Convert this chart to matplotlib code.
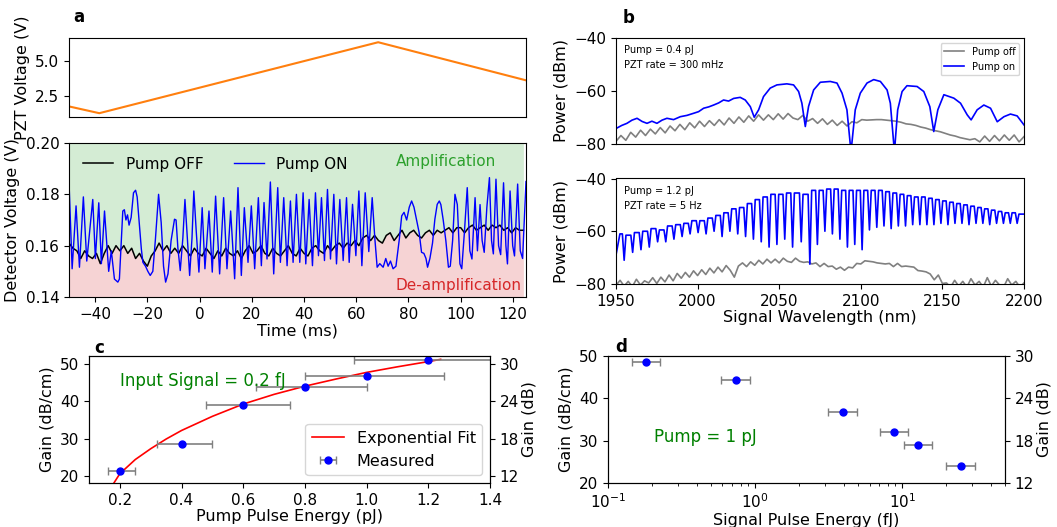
import numpy as np
import matplotlib
matplotlib.use("Agg")
import matplotlib.pyplot as plt

plt.rcParams['font.size'] = 11

# ---------------------------------------------------------------
# (a) PZT ramp and detector trace
# ---------------------------------------------------------------
pzt_t = [-50.0, -38.4, 68.4, 125.0]
pzt_v = [1.79, 1.31, 6.34, 3.64]

# pump-off detector voltage, sampled every 1.5 ms from -50 ms
off_t0, off_dt = -50.0, 1.5
off_v = [0.161, 0.159, 0.158, 0.155, 0.158, 0.156, 0.155, 0.157, 0.153, 0.157,
         0.160, 0.157, 0.160, 0.158, 0.160, 0.157, 0.159, 0.155, 0.157, 0.154,
         0.152, 0.156, 0.158, 0.161, 0.158, 0.160, 0.157, 0.159, 0.157, 0.160,
         0.158, 0.156, 0.159, 0.157, 0.156, 0.159, 0.157, 0.155, 0.158, 0.156,
         0.159, 0.157, 0.156, 0.158, 0.155, 0.158, 0.160, 0.157, 0.158, 0.160,
         0.157, 0.156, 0.159, 0.157, 0.156, 0.158, 0.160, 0.157, 0.156, 0.159,
         0.157, 0.156, 0.159, 0.160, 0.158, 0.157, 0.160, 0.158, 0.160, 0.161,
         0.159, 0.161, 0.160, 0.162, 0.160, 0.163, 0.164, 0.162, 0.164, 0.162,
         0.161, 0.164, 0.165, 0.162, 0.164, 0.166, 0.163, 0.165, 0.166, 0.164,
         0.163, 0.165, 0.166, 0.164, 0.166, 0.165, 0.166, 0.167, 0.165, 0.167,
         0.167, 0.165, 0.167, 0.168, 0.166, 0.167, 0.168, 0.166, 0.168, 0.167,
         0.168, 0.166, 0.167, 0.165, 0.167, 0.166, 0.166]

# pump-on detector voltage (turning points of the fringe signal)
on_t = [-50.0, -48.8, -47.3, -46.0, -44.5, -43.2, -40.9, -39.9, -38.6, -37.6,
        -36.4, -34.8, -33.8, -32.6, -31.3, -30.7, -29.4, -28.8, -28.2, -27.6,
        -27.0, -26.2, -25.3, -24.5, -23.9, -23.0, -22.3, -21.7, -20.7, -19.8,
        -18.9, -17.9, -16.9, -15.7, -14.7, -13.8, -13.0, -12.1, -10.9, -9.6,
        -9.0, -8.3, -7.4, -6.4, -5.6, -4.7, -3.8, -2.9, -2.2, -1.3,
        -0.25, 1.0, 2.05, 3.6, 4.86, 6.14, 7.68, 9.21, 10.49, 11.9,
        13.43, 14.71, 15.99, 17.14, 18.55, 19.82, 21.1, 22.51, 23.66, 24.68,
        25.83, 27.11, 28.39, 29.93, 30.95, 32.23, 33.51, 34.79, 35.81, 37.09,
        38.37, 39.65, 40.67, 41.95, 43.23, 44.38, 45.53, 46.68, 47.83, 48.98,
        50.13, 51.41, 52.43, 53.71, 54.99, 56.27, 57.29, 58.57, 59.85, 61.0,
        62.15, 63.43, 64.8, 66.1, 67.1, 68.0, 69.0, 70.3, 71.3, 72.2,
        73.1, 74.1, 75.2, 76.5, 77.4, 78.3, 79.3, 80.3, 81.2, 82.1,
        83.1, 84.1, 85.0, 85.9, 86.7, 87.3, 88.2, 89.2, 90.1, 91.0,
        91.8, 92.4, 93.3, 94.3, 95.3, 96.0, 96.9, 97.8, 98.7, 99.7,
        100.4, 101.4, 102.5, 103.5, 104.3, 105.5, 106.4, 107.4, 108.2, 109.0,
        110.0, 111.0, 111.8, 112.5, 113.5, 114.5, 115.3, 116.4, 117.3, 117.9,
        118.9, 119.9, 120.6, 121.8, 122.8, 123.7, 125.0]
on_v = [0.185, 0.151, 0.1755, 0.1516, 0.179, 0.154, 0.178, 0.155, 0.1767, 0.153,
        0.1735, 0.150, 0.158, 0.147, 0.1458, 0.147, 0.1735, 0.174, 0.170, 0.172,
        0.168, 0.171, 0.1806, 0.1816, 0.179, 0.1677, 0.1587, 0.1535, 0.152, 0.150,
        0.1484, 0.150, 0.1626, 0.180, 0.169, 0.152, 0.1458, 0.149, 0.162, 0.1703,
        0.170, 0.159, 0.1503, 0.163, 0.178, 0.163, 0.1484, 0.163, 0.1813, 0.166,
        0.1497, 0.1748, 0.151, 0.1735, 0.1497, 0.1793, 0.149, 0.1787, 0.151, 0.1735,
        0.1471, 0.1826, 0.1484, 0.1748, 0.1535, 0.1755, 0.151, 0.1787, 0.1522, 0.1768,
        0.1548, 0.1848, 0.149, 0.1826, 0.1535, 0.1787, 0.1522, 0.1774, 0.1535, 0.180,
        0.1535, 0.1806, 0.1529, 0.178, 0.1522, 0.1806, 0.1561, 0.1787, 0.1542, 0.1819,
        0.1548, 0.180, 0.1529, 0.178, 0.1542, 0.1787, 0.1535, 0.1761, 0.1561, 0.1813,
        0.1522, 0.1806, 0.1577, 0.1787, 0.163, 0.1516, 0.153, 0.1516, 0.155, 0.152,
        0.154, 0.151, 0.152, 0.1626, 0.1716, 0.173, 0.170, 0.175, 0.1774, 0.175,
        0.170, 0.165, 0.1574, 0.157, 0.155, 0.1516, 0.155, 0.161, 0.1703, 0.1761,
        0.1774, 0.176, 0.170, 0.162, 0.1516, 0.152, 0.162, 0.180, 0.176, 0.1529,
        0.151, 0.165, 0.1826, 0.158, 0.1548, 0.1787, 0.158, 0.176, 0.162, 0.1574,
        0.1748, 0.1865, 0.162, 0.1568, 0.1859, 0.160, 0.1565, 0.1845, 0.160, 0.1529,
        0.1813, 0.160, 0.156, 0.184, 0.158, 0.155, 0.185]

# ---------------------------------------------------------------
# (b) optical spectra
# ---------------------------------------------------------------
# 0.4 pJ pump, 300 mHz PZT
b1_on_wl = [1950.2, 1953.5, 1956.7, 1959.8, 1962.9, 1966.0, 1969.0, 1972.0, 1975.1, 1978.2,
            1981.2, 1985.3, 1989.4, 1993.5, 1997.6, 2000.6, 2003.7, 2006.8, 2009.8, 2012.9,
            2015.9, 2019.0, 2022.1, 2026.1, 2029.2, 2032.3, 2034.7, 2037.4, 2040.4, 2044.5,
            2048.6, 2054.7, 2058.8, 2061.9, 2063.9, 2066.0, 2068.0, 2071.1, 2075.2, 2081.3,
            2085.4, 2088.5, 2091.5, 2094.0, 2096.6, 2099.7, 2103.8, 2107.9, 2112.0, 2116.1,
            2118.1, 2120.6, 2122.6, 2125.3, 2128.3, 2134.5, 2138.6, 2142.3, 2144.7, 2147.2,
            2150.9, 2157.0, 2161.1, 2165.2, 2167.6, 2171.3, 2175.4, 2179.5, 2183.6, 2187.7,
            2191.7, 2195.8, 2200.0]
b1_on_p = [-74.1, -73.0, -72.2, -71.0, -70.3, -71.5, -72.2, -71.4, -72.2, -71.0,
           -70.3, -70.8, -69.7, -69.2, -68.4, -67.8, -66.5, -66.0, -65.3, -64.5,
           -63.4, -63.8, -62.8, -62.4, -63.4, -65.9, -69.9, -67.1, -62.1, -58.9,
           -57.7, -57.3, -57.7, -60.2, -64.6, -73.4, -65.8, -59.6, -56.7, -56.4,
           -57.0, -60.8, -67.1, -83.0, -67.1, -60.8, -57.0, -55.7, -56.4, -59.6,
           -64.6, -83.0, -67.1, -60.2, -58.0, -58.3, -60.2, -65.9, -75.3, -67.1,
           -61.4, -62.7, -64.6, -69.0, -70.9, -67.1, -65.3, -66.5, -71.6, -69.7,
           -68.7, -69.4, -72.8]
b1_off_p = [-79.0, -76.8, -78.6, -75.6, -77.4, -74.8, -76.8, -74.4, -76.2, -73.8,
            -75.8, -73.2, -75.0, -72.6, -74.6, -72.0, -73.9, -71.4, -73.4, -71.2,
            -73.0, -70.8, -72.8, -70.2, -72.2, -69.8, -71.8, -69.4, -71.4, -69.0,
            -71.0, -69.0, -70.8, -68.6, -70.6, -68.5, -70.2, -70.8, -69.2, -71.4,
            -70.4, -72.2, -70.5, -72.6, -71.0, -73.0, -71.4, -73.2, -71.6, -72.0,
            -70.8, -71.0, -70.9, -70.8, -70.8, -71.0, -71.2, -71.4, -71.8, -72.4,
            -72.6, -73.0, -73.6, -74.0, -74.6, -75.0, -75.4, -76.0, -76.6, -77.0,
            -77.6, -78.0, -78.4, -78.0, -79.2, -77.0, -79.0, -76.8, -78.8, -76.6,
            -78.6, -76.6, -79.2, -77.2]

# 1.2 pJ pump, 5 Hz PZT: fringe dips and the plateau level after each dip
b2_start_wl = [1950.0, 1952.4]
b2_start_p = [-69.0, -61.0]
b2_dip_wl = [1955.0, 1960.2, 1965.3, 1970.4, 1975.5, 1980.5, 1985.5, 1990.5, 1995.4, 2000.3,
             2005.2, 2010.1, 2015.0, 2019.8, 2024.6, 2029.4, 2034.2, 2039.0, 2043.8, 2048.6,
             2053.4, 2058.2, 2063.5, 2068.8, 2073.4, 2078.0, 2082.6, 2087.2, 2091.8, 2096.3,
             2100.8, 2105.3, 2109.8, 2114.2, 2118.6, 2123.0, 2127.4, 2131.8, 2136.2, 2140.5,
             2144.8, 2149.1, 2153.4, 2157.7, 2162.0, 2166.3, 2170.6, 2174.8, 2179.0, 2183.2,
             2187.4, 2191.6, 2195.8]
b2_dip_p = [-71.0, -68.0, -67.0, -66.0, -64.0, -64.0, -63.0, -62.0, -61.0, -60.5,
            -61.0, -60.0, -62.0, -60.0, -61.0, -62.0, -63.0, -64.0, -66.0, -65.0,
            -63.0, -66.0, -64.0, -72.5, -65.0, -60.0, -61.0, -63.0, -66.0, -65.0,
            -67.0, -59.5, -58.5, -58.0, -59.0, -58.0, -58.0, -57.5, -57.5, -57.5,
            -57.5, -57.0, -57.5, -57.0, -57.0, -57.5, -57.0, -57.0, -57.5, -57.0,
            -57.0, -57.0, -57.0]
b2_peak_p = [-61.5, -60.5, -60.0, -59.0, -59.5, -58.0, -57.5, -57.0, -56.0, -56.0,
             -55.0, -54.0, -53.0, -51.5, -51.0, -49.5, -48.0, -47.0, -46.0, -46.0,
             -45.5, -45.5, -46.0, -44.5, -44.5, -44.0, -44.0, -44.5, -44.5, -44.5,
             -44.5, -44.5, -44.5, -45.0, -45.5, -46.0, -46.5, -47.0, -47.0, -47.5,
             -48.0, -48.5, -49.0, -49.5, -50.0, -50.5, -51.0, -51.5, -52.0, -52.5,
             -53.0, -53.0, -53.5]
b2_off_p = [-80.5, -78.6, -80.8, -79.0, -81.0, -78.2, -80.4, -78.8,
            -79.6, -77.6, -79.8, -77.4, -79.2,
            -76.6, -78.8, -76.0, -77.8, -75.6,
            -77.4, -75.0, -76.8, -74.6, -76.4,
            -74.0, -75.8, -73.6, -75.4, -73.0, -74.8, -77.4, -73.2,
            -72.0, -73.4, -71.6, -72.9, -71.0, -72.4, -70.6, -72.0, -70.6,
            -72.0, -70.2, -71.4, -71.8, -70.2, -71.4, -71.8,
            -71.6, -72.4, -72.0, -73.4, -72.2, -73.4, -73.2, -74.4,
            -73.6, -74.8, -73.6, -73.9, -72.2, -72.4, -71.2, -71.4,
            -71.6, -72.0, -72.2, -72.4, -72.2, -73.4, -72.2, -73.4, -73.2,
            -73.4, -73.6, -74.9, -75.1, -75.4, -76.2, -78.4, -76.6,
            -79.8, -79.6, -81.2, -78.6, -80.8, -79.0, -81.2, -78.0, -80.4, -79.0,
            -81.2, -77.6, -80.8, -78.6, -80.4, -81.2, -78.0, -80.4, -79.0, -81.2, -79.6]

# ---------------------------------------------------------------
# (c) gain vs pump energy, (d) gain vs signal energy
# ---------------------------------------------------------------
c_pump = [0.2, 0.4, 0.6, 0.8, 1.0, 1.2]
c_gain = [21.3, 28.6, 39.0, 43.9, 46.7, 51.1]
c_xerr_lo = [0.04, 0.08, 0.12, 0.16, 0.20, 0.24]
c_xerr_hi = [0.05, 0.10, 0.15, 0.20, 0.25, 0.30]
fit_pump = [0.18, 0.2, 0.25, 0.3, 0.35, 0.4, 0.5, 0.6, 0.7, 0.8, 0.9, 1.0, 1.1, 1.2, 1.24]
fit_gain = [18.0, 20.6, 24.4, 27.3, 29.9, 32.2, 36.0, 39.3, 41.9, 44.1, 46.0, 47.8, 49.3, 50.7, 51.3]

d_sig = [0.181, 0.74, 3.93, 8.79, 12.8, 25.0]
d_gain = [48.7, 44.4, 36.8, 32.1, 28.9, 23.9]
d_xerr_lo = [0.036, 0.15, 0.79, 1.76, 2.56, 5.0]
d_xerr_hi = [0.045, 0.185, 0.98, 2.2, 3.2, 6.25]

length_cm = 0.6   # dB/cm -> dB

W, H = 1057, 527


def rect(l, t, r, b):
    return [l / W, 1 - b / H, (r - l) / W, (b - t) / H]


fig = plt.figure(figsize=(W / 100, H / 100), dpi=100)

# ---- (a) top: PZT voltage
ax_pzt = fig.add_axes(rect(69, 38, 526, 117))
ax_pzt.plot(pzt_t, pzt_v, color='tab:orange', lw=1.5)
ax_pzt.set_xlim(-50, 125)
ax_pzt.set_ylim(1.04, 6.64)
ax_pzt.set_yticks([2.5, 5.0])
ax_pzt.tick_params(bottom=False, labelbottom=False)
ax_pzt.set_ylabel('PZT Voltage (V)', fontsize=11.5)

# ---- (a) bottom: detector voltage
ax_det = fig.add_axes(rect(69, 143, 526, 297))
off_t = off_t0 + off_dt * np.arange(len(off_v))
ax_det.fill_between(off_t, off_v, 0.20, color='tab:green', alpha=0.2, lw=0)
ax_det.fill_between(off_t, 0.14, off_v, color='tab:red', alpha=0.2, lw=0)
ax_det.plot(off_t, off_v, color='black', lw=1.1, label='Pump OFF')
ax_det.plot(on_t, on_v, color='blue', lw=1.0, label='Pump ON')
ax_det.set_xlim(-50, 125)
ax_det.set_ylim(0.14, 0.20)
ax_det.set_xticks([-40, -20, 0, 20, 40, 60, 80, 100, 120])
ax_det.set_yticks([0.14, 0.16, 0.18, 0.20])
ax_det.set_xlabel('Time (ms)', fontsize=11.5, labelpad=1)
ax_det.set_ylabel('Detector Voltage (V)', fontsize=11.5)
ax_det.legend(loc='upper left', ncol=2, frameon=False, fontsize=11, columnspacing=2.0)
ax_det.text(94.4, 0.1926, 'Amplification', color='tab:green', fontsize=11,
            ha='center', va='center')
ax_det.text(99.2, 0.1445, 'De-amplification', color='tab:red', fontsize=11,
            ha='center', va='center')

# ---- (b) top spectrum
ax_b1 = fig.add_axes(rect(616, 38, 1024, 144))
b1_off_wl = np.linspace(1950, 2200, len(b1_off_p))
ax_b1.plot(b1_off_wl, b1_off_p, color='gray', lw=1.2, label='Pump off')
ax_b1.plot(b1_on_wl, b1_on_p, color='blue', lw=1.2, label='Pump on')
ax_b1.set_xlim(1950, 2200)
ax_b1.set_ylim(-80, -40)
ax_b1.set_yticks([-80, -60, -40])
ax_b1.tick_params(bottom=False, labelbottom=False)
ax_b1.set_ylabel('Power (dBm)', fontsize=11.5)
ax_b1.legend(loc='upper right', fontsize=7)
ax_b1.text(0.02, 0.93, 'Pump = 0.4 pJ\nPZT rate = 300 mHz', transform=ax_b1.transAxes,
           fontsize=7, va='top', ha='left', linespacing=1.6)

# ---- (b) bottom spectrum
ax_b2 = fig.add_axes(rect(616, 178.5, 1024, 284))
b2_wl = list(b2_start_wl)
b2_p = list(b2_start_p)
prev_peak = b2_start_p[-1]
for wl, dip, peak in zip(b2_dip_wl, b2_dip_p, b2_peak_p):
    b2_wl += [wl - 1.1, wl, wl + 1.1]
    b2_p += [prev_peak, dip, peak]
    prev_peak = peak
b2_wl.append(2200.0)
b2_p.append(prev_peak)
b2_off_wl = np.linspace(1950, 2200, len(b2_off_p))
ax_b2.plot(b2_off_wl, b2_off_p, color='gray', lw=1.2)
ax_b2.plot(b2_wl, b2_p, color='blue', lw=1.2)
ax_b2.set_xlim(1950, 2200)
ax_b2.set_ylim(-80, -40)
ax_b2.set_yticks([-80, -60, -40])
ax_b2.set_xticks([1950, 2000, 2050, 2100, 2150, 2200])
ax_b2.set_xlabel('Signal Wavelength (nm)', fontsize=11.5, labelpad=1)
ax_b2.set_ylabel('Power (dBm)', fontsize=11.5)
ax_b2.text(0.02, 0.93, 'Pump = 1.2 pJ\nPZT rate = 5 Hz', transform=ax_b2.transAxes,
           fontsize=7, va='top', ha='left', linespacing=1.6)

# ---- (c) gain vs pump pulse energy
ax_c = fig.add_axes(rect(89, 356, 490, 483))
ax_c.plot(fit_pump, fit_gain, color='red', lw=1.2, label='Exponential Fit')
ax_c.errorbar(c_pump, c_gain, xerr=[c_xerr_lo, c_xerr_hi], fmt='o', color='blue',
              ecolor='gray', elinewidth=1.2, capsize=3, markersize=5, label='Measured')
ax_c.set_xlim(0.1, 1.4)
ax_c.set_ylim(18.1, 52.2)
ax_c.set_xticks([0.2, 0.4, 0.6, 0.8, 1.0, 1.2, 1.4])
ax_c.set_yticks([20, 30, 40, 50])
ax_c.set_xlabel('Pump Pulse Energy (pJ)', fontsize=11.5, labelpad=1)
ax_c.set_ylabel('Gain (dB/cm)', fontsize=11.5)
ax_c.text(0.2, 45.5, 'Input Signal = 0.2 fJ', color='green', fontsize=12,
          ha='left', va='center')
ax_c.legend(loc='lower right', fontsize=11.5)
ax_c2 = ax_c.twinx()
ax_c2.set_ylim(18.1 * length_cm, 52.2 * length_cm)
ax_c2.set_yticks([12, 18, 24, 30])
ax_c2.set_ylabel('Gain (dB)', fontsize=11.5, labelpad=2)

# ---- (d) gain vs signal pulse energy
ax_d = fig.add_axes(rect(608, 356, 1005, 483))
ax_d.errorbar(d_sig, d_gain, xerr=[d_xerr_lo, d_xerr_hi], fmt='o', color='blue',
              ecolor='gray', elinewidth=1.2, capsize=3, markersize=5)
ax_d.set_xscale('log')
ax_d.set_xlim(0.1, 50)
ax_d.set_ylim(20, 50)
ax_d.set_yticks([20, 30, 40, 50])
ax_d.set_xlabel('Signal Pulse Energy (fJ)', fontsize=11.5, labelpad=1)
ax_d.set_ylabel('Gain (dB/cm)', fontsize=11.5)
ax_d.text(0.206, 30.9, 'Pump = 1 pJ', color='green', fontsize=12, ha='left', va='center')
ax_d2 = ax_d.twinx()
ax_d2.set_ylim(20 * length_cm, 50 * length_cm)
ax_d2.set_yticks([12, 18, 24, 30])
ax_d2.set_ylabel('Gain (dB)', fontsize=11.5, labelpad=2)

# panel letters
for letter, x, y in [('a', 79, 17), ('b', 629, 18), ('c', 99, 348), ('d', 621, 347)]:
    fig.text(x / W, 1 - y / H, letter, fontsize=12, fontweight='bold',
             ha='center', va='center')

fig.savefig('out.png', dpi=100)
